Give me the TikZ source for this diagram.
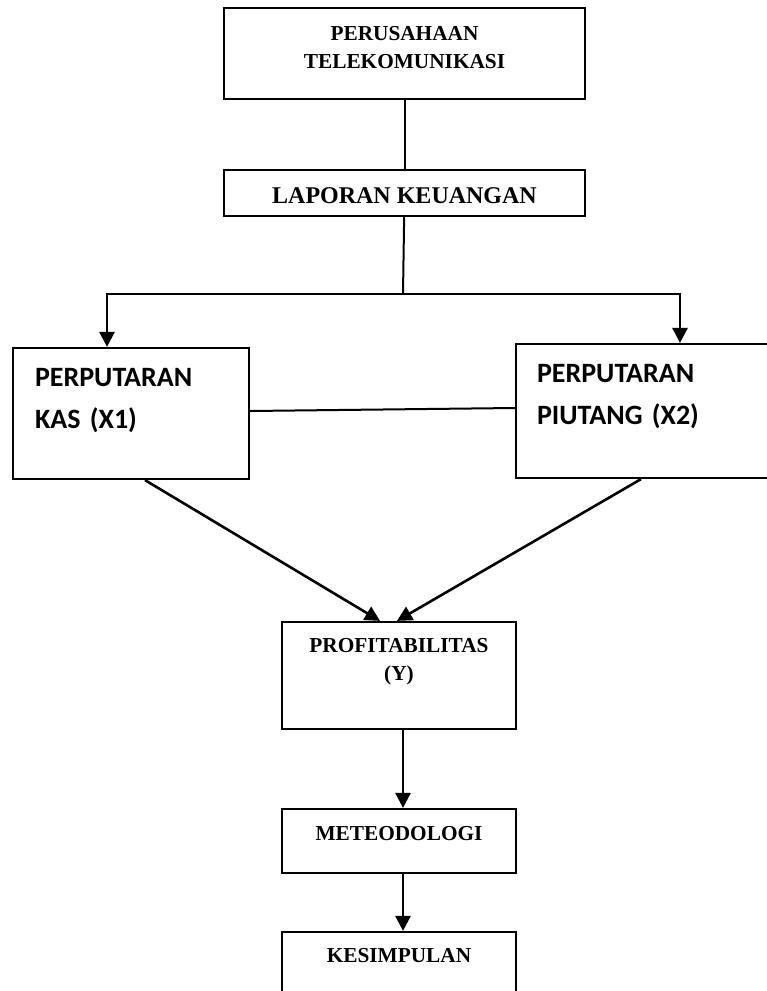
\documentclass[tikz,border=0pt]{standalone}
\usepackage{fontspec}
\setmainfont{Liberation Serif}
\newfontfamily\kalibri{Carlito}
\usetikzlibrary{arrows.meta,positioning}
\tikzset{
  kotak/.style={draw, line width=2.2pt, rectangle, align=center, inner xsep=0pt, inner ysep=0pt, font=\bfseries\fontsize{21.3}{27.5}\selectfont},
  kotakx/.style={draw, line width=2.2pt, rectangle, align=left, inner ysep=0pt, font=\kalibri\bfseries\fontsize{28}{42.5}\selectfont},
  garis/.style={line width=2pt},
  panah/.style={-{Triangle[length=15pt,width=15pt]}, line width=2.6pt},
}
\begin{document}
\begin{tikzpicture}[x=1pt,y=-1pt]
  \useasboundingbox (0,0) rectangle (767,991);
  \node[kotak, minimum width=361pt, text height=60pt, text depth=31pt] (usaha) at (404.5,53.5) {PERUSAHAAN\\TELEKOMUNIKASI};
  \node[kotak, minimum width=361pt, text height=33pt, text depth=13pt, font=\bfseries\fontsize{24}{28}\selectfont] (lapkeu) at (404.5,193) {LAPORAN KEUANGAN};
  \node[kotakx, inner xsep=22pt, text width=192pt, text height=38pt, text depth=93pt] (kas) at (131,413.5) {PERPUTARAN\\KAS (X1)};
  \node[kotakx, inner xsep=21pt, text width=217pt, text height=38pt, text depth=96pt] (piutang) at (645.5,411) {PERPUTARAN\\PIUTANG (X2)};
  \node[kotak, minimum width=234pt, text height=58pt, text depth=49pt] (profit) at (399,675.5) {PROFITABILITAS\\(Y)};
  \node[kotak, minimum width=234pt, text height=31pt, text depth=33pt] (metode) at (399,841) {METEODOLOGI};
  \node[kotak, minimum width=234pt, text height=30pt, text depth=38pt] (simpul) at (399,966) {KESIMPULAN};
  \coordinate (cabang) at (403,294);
  \draw[garis] (usaha) -- (lapkeu);
  \draw[garis] (lapkeu) -- (cabang);
  \draw[panah] (cabang) -| ([xshift=-24pt]kas.north);
  \draw[panah] (cabang) -| ([xshift=34.5pt]piutang.north);
  \draw[garis] ([yshift=2.5pt]kas.east) -- ([yshift=3pt]piutang.west);
  \draw[panah] ([xshift=14pt]kas.south) -- ([xshift=-19pt]profit.north);
  \draw[panah] ([xshift=-4.5pt]piutang.south) -- ([xshift=-2pt]profit.north);
  \draw[panah] ([xshift=4pt]profit.south) -- ([xshift=4pt]metode.north);
  \draw[panah] ([xshift=4pt]metode.south) -- ([xshift=4pt]simpul.north);
\end{tikzpicture}
\end{document}
